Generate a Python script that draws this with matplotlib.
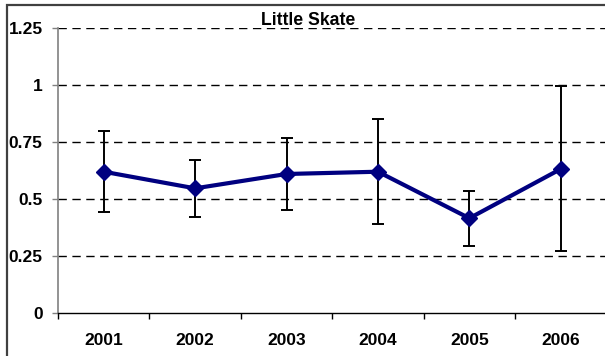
import numpy as np
import matplotlib
matplotlib.use('Agg')
import matplotlib.pyplot as plt
from matplotlib.patches import Rectangle

years = ['2001', '2002', '2003', '2004', '2005', '2006']
values = [0.621, 0.548, 0.611, 0.621, 0.417, 0.633]
upper = [0.800, 0.671, 0.769, 0.854, 0.538, 0.996]
lower = [0.446, 0.424, 0.455, 0.390, 0.297, 0.273]
yticks = [0, 0.25, 0.5, 0.75, 1, 1.25]
ytick_labels = ['0', '0.25', '0.5', '0.75', '1', '1.25']

plt.rcParams['font.family'] = ['Liberation Sans', 'DejaVu Sans']
plt.rcParams['font.weight'] = 'bold'

fig = plt.figure(figsize=(6.05, 3.56), dpi=100)
ax = fig.add_axes([58 / 605, 1 - 313.3 / 356, (606.5 - 58) / 605, (313.3 - 28.3) / 356])

x = np.arange(len(years))
v = np.array(values)
err = [v - np.array(lower), np.array(upper) - v]

ax.errorbar(x, v, yerr=err, fmt='none', ecolor='black', elinewidth=1.4,
            capsize=4.3, capthick=1.4, zorder=3)
ax.plot(x, v, color='#000080', lw=3, marker='D', markersize=8.5, zorder=4)

ax.set_xlim(-0.5, len(years) - 0.5)
ax.set_ylim(0, 1.25)
ax.set_yticks(yticks)
ax.set_yticklabels(ytick_labels, fontsize=12.5, fontweight='bold')
for yv in yticks[1:]:
    ax.axhline(yv, color='black', lw=1, dashes=(6, 4), zorder=1)

ax.set_xticks(np.arange(-0.5, len(years), 1.0))
ax.set_xticklabels([])
ax.set_xticks(x, minor=True)
ax.set_xticklabels(years, minor=True, fontsize=12.5, fontweight='bold')
ax.tick_params(axis='x', which='major', length=4, width=1, direction='out')
ax.tick_params(axis='x', which='minor', length=0, pad=14.5)
ax.tick_params(axis='y', length=4, width=1, pad=7, color='#808080')

ax.spines['top'].set_visible(False)
ax.spines['right'].set_visible(False)
ax.spines['left'].set_color('#808080')
ax.spines['left'].set_linewidth(1.2)
ax.spines['bottom'].set_color('black')
ax.spines['bottom'].set_linewidth(1)

fig.text(308.5 / 605, 1 - 25 / 356, 'Little Skate', ha='center', va='baseline',
         fontsize=12.7, fontweight='bold')

fig.patches.append(Rectangle((6.5 / 605, -0.1), 1.2, 1 - 4.5 / 356 + 0.1,
                             transform=fig.transFigure, fill=False,
                             edgecolor='#404040', lw=1.6))

fig.savefig('out.png', dpi=100)
